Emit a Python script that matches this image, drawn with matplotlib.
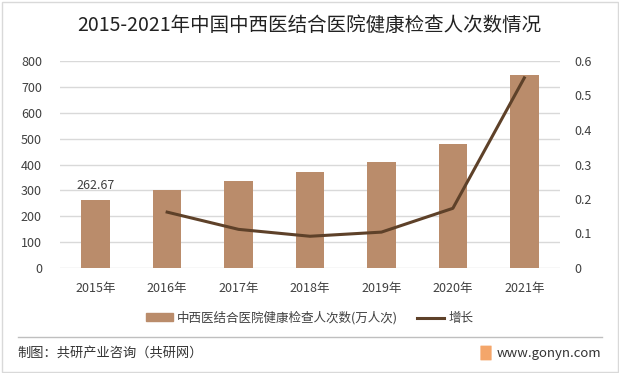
import matplotlib
matplotlib.use("Agg")
import matplotlib.pyplot as plt
from matplotlib.patches import Rectangle, FancyBboxPatch
from matplotlib.lines import Line2D

plt.rcParams['font.family'] = ['Noto Sans CJK SC', 'DejaVu Sans']

years = ['2015年', '2016年', '2017年', '2018年', '2019年', '2020年', '2021年']
visits = [262.67, 302, 337, 370, 409, 478, 745]
growth_years = ['2016年', '2017年', '2018年', '2019年', '2020年', '2021年']
growth = [0.162, 0.112, 0.092, 0.104, 0.173, 0.551]
bar_label = '中西医结合医院健康检查人次数(万人次)'
line_label = '增长'

W, H = 619, 373
fig = plt.figure(figsize=(W/100, H/100), dpi=100)
fig.patch.set_facecolor('white')

# outer frame
fig.add_artist(Rectangle((1.5/W, 1.5/H), 1 - 3/W, 1 - 3/H, transform=fig.transFigure,
                         fill=False, edgecolor='#d9d9d9', linewidth=1))

ax = fig.add_axes([60/W, 1 - 268/H, 500/W, 207/H])
x = list(range(len(years)))
ax.bar(x, visits, width=0.4, color='#BA8C6B', zorder=3)
ax.set_ylim(0, 800)
ax.set_xlim(-0.5, len(years) - 0.5)
ax.set_yticks(range(0, 801, 100))
ax.yaxis.grid(True, color='#d9d9d9', linewidth=1)
ax.set_axisbelow(True)
for s in ax.spines.values():
    s.set_visible(False)
ax.set_xticks(x)
ax.set_xticklabels(years)
ax.tick_params(axis='both', length=0, labelsize=9, colors='#404040')
ax.tick_params(axis='y', pad=13)
ax.tick_params(axis='x', pad=10)
ax.annotate(f'{visits[0]:.2f}', (x[0], visits[0]), xytext=(0, 6), textcoords='offset points',
            ha='center', va='bottom', fontsize=9, color='#404040')

ax2 = ax.twinx()
gx = [years.index(y) for y in growth_years]
ax2.plot(gx, growth, color='#5E4129', linewidth=2.2, zorder=4)
ax2.set_ylim(0, 0.6)
ax2.set_yticks([0, 0.1, 0.2, 0.3, 0.4, 0.5, 0.6])
ax2.set_yticklabels(['0', '0.1', '0.2', '0.3', '0.4', '0.5', '0.6'])
ax2.tick_params(axis='y', length=0, labelsize=9, colors='#404040', pad=10)
for s in ax2.spines.values():
    s.set_visible(False)

fig.text(0.5, 1 - 25/H, '2015-2021年中国中西医结合医院健康检查人次数情况', ha='center', va='center',
         fontsize=14, color='#222222')

handles = [Rectangle((0, 0), 1, 1, color='#BA8C6B'),
           Line2D([0], [0], color='#5E4129', linewidth=2.2)]
fig.legend(handles, [bar_label, line_label], loc='center', bbox_to_anchor=(0.5, 1 - 318/H),
           ncol=2, frameon=False, fontsize=9, handlelength=2.2, handleheight=0.6,
           columnspacing=1.5, handletextpad=0.3, labelcolor='#404040')

fig.add_artist(Line2D([18/W, 602/W], [1 - 337/H, 1 - 337/H], transform=fig.transFigure,
                      color='#bfbfbf', linewidth=1))
fig.text(17/W, 1 - 353/H, '制图：共研产业咨询（共研网）', ha='left', va='center', fontsize=9.5,
         color='#333333')
fig.add_artist(FancyBboxPatch((481/W, 1 - 360/H), 10/W, 14/H, boxstyle='round,pad=0.001',
                              transform=fig.transFigure, facecolor='#F4A66A', edgecolor='none'))
fig.text(497/W, 1 - 353/H, 'www.gonyn.com', ha='left', va='center', fontsize=9.5,
         color='#333333')

fig.savefig('out.png', dpi=100, facecolor='white')
